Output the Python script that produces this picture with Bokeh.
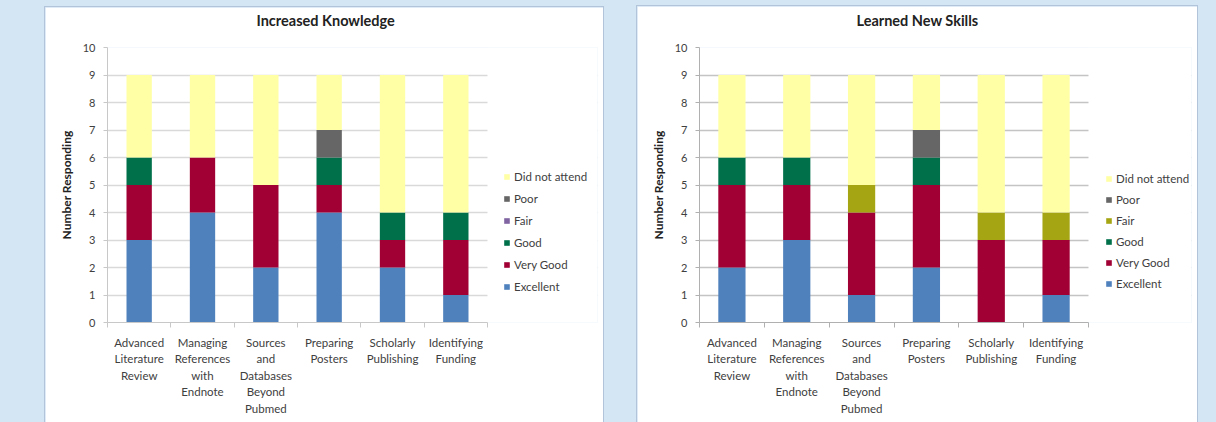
import numpy as np
from bokeh.plotting import figure
from bokeh.models import (Range1d, FixedTicker, SingleIntervalTicker, Legend, LegendItem,
                          Spacer, ColumnDataSource, BoxAnnotation)
from bokeh.layouts import row, column
from bokeh.embed import file_html
from bokeh.resources import INLINE

# ---------------- data ----------------
categories = ["Advanced\nLiterature\nReview",
              "Managing\nReferences\nwith\nEndnote",
              "Sources\nand\nDatabases\nBeyond\nPubmed",
              "Preparing\nPosters",
              "Scholarly\nPublishing",
              "Identifying\nFunding"]
ratings = ["Excellent", "Very Good", "Good", "Fair", "Poor", "Did not attend"]

# Increased Knowledge
knowledge_excellent = [3, 4, 2, 4, 2, 1]
knowledge_very_good = [2, 2, 3, 1, 1, 2]
knowledge_good = [1, 0, 0, 1, 1, 1]
knowledge_fair = [0, 0, 0, 0, 0, 0]
knowledge_poor = [0, 0, 0, 1, 0, 0]
knowledge_did_not_attend = [3, 3, 4, 2, 5, 5]

# Learned New Skills
skills_excellent = [2, 3, 1, 2, 0, 1]
skills_very_good = [3, 2, 3, 3, 3, 2]
skills_good = [1, 1, 0, 1, 0, 0]
skills_fair = [0, 0, 1, 0, 1, 1]
skills_poor = [0, 0, 0, 1, 0, 0]
skills_did_not_attend = [3, 3, 4, 2, 5, 5]

# ---------------- style ----------------
FONT = "Lato"
TXT = "#404040"
colors_left = ["#4F81BD", "#A00034", "#00704A", "#8064A2", "#666666", "#FFFFA6"]
colors_right = ["#4F81BD", "#A00034", "#00704A", "#A5A514", "#666666", "#FFFFA6"]
BG = "#d4e5f4"


def make_panel(title, series, colors, width, height, mleft, mtop, mbottom, plot_w,
               bar_width, title_offset, legend_loc, legend_spacing, grid_color, axis_color):
    n = len(categories)
    x = list(np.arange(n) + 0.5)
    data = {"x": x}
    for r, s in zip(ratings, series):
        data[r] = s
    src = ColumnDataSource(data)

    mright = 6
    frame_w = width - mleft - mright
    x_end = n * frame_w / plot_w  # extra room on the right holds the legend

    p = figure(width=width, height=height, x_range=Range1d(0, x_end), y_range=Range1d(0, 10),
               output_backend="svg", toolbar_location=None,
               min_border_left=mleft, min_border_right=mright,
               min_border_top=mtop, min_border_bottom=mbottom,
               background_fill_color="white", border_fill_color="white",
               outline_line_color=None,
               styles={"outline": "1px solid #b2c4da"})

    # white mask over the grid lines to the right of the category area
    p.add_layout(BoxAnnotation(left=n, fill_color="white", fill_alpha=1,
                               line_color=None, level="underlay"))

    rends = p.vbar_stack(ratings, x="x", width=bar_width, source=src,
                         fill_color=colors, line_color=None)

    # title (trailing empty line lifts the text towards the top of the box)
    p.title.text = title + "\n"
    p.title.align = "left"
    p.title.text_font = FONT
    p.title.text_font_size = "14.5px"
    p.title.text_font_style = "bold"
    p.title.text_color = "#222222"
    p.title.offset = title_offset
    p.title.standoff = 3

    # x axis
    xa = p.xaxis[0]
    xa.bounds = (0, n)
    xa.ticker = FixedTicker(ticks=x, minor_ticks=list(range(n + 1)))
    xa.major_label_overrides = {float(xi): c for xi, c in zip(x, categories)}
    xa.major_tick_line_color = None
    xa.major_tick_out = 0
    xa.major_tick_in = 0
    xa.minor_tick_out = 5
    xa.minor_tick_in = 0
    xa.minor_tick_line_color = axis_color
    xa.axis_line_color = axis_color
    xa.major_label_text_font = FONT
    xa.major_label_text_font_size = "11.5px"
    xa.major_label_text_color = TXT
    xa.major_label_text_line_height = 1.28
    xa.major_label_standoff = 8

    # y axis
    ya = p.yaxis[0]
    ya.ticker = SingleIntervalTicker(interval=1, num_minor_ticks=0)
    ya.axis_label = "Number Responding"
    ya.axis_label_text_font = FONT
    ya.axis_label_text_font_size = "12px"
    ya.axis_label_text_font_style = "bold"
    ya.axis_label_text_color = "#222222"
    ya.axis_label_standoff = 6
    ya.major_label_text_font = FONT
    ya.major_label_text_font_size = "11px"
    ya.major_label_text_color = TXT
    ya.major_label_standoff = 8
    ya.major_tick_out = 4
    ya.major_tick_in = 0
    ya.minor_tick_line_color = None
    ya.major_tick_line_color = axis_color
    ya.axis_line_color = axis_color

    p.xgrid.grid_line_color = None
    p.ygrid.ticker = SingleIntervalTicker(interval=1, num_minor_ticks=0)
    p.ygrid.grid_line_color = grid_color
    p.ygrid.grid_line_width = 1.5

    items = [LegendItem(label=r, renderers=[rd]) for r, rd in zip(ratings, rends)]
    items.reverse()
    leg = Legend(items=items, location=legend_loc, glyph_width=7, glyph_height=7,
                 label_height=16, spacing=legend_spacing, padding=0, margin=0,
                 border_line_color=None, background_fill_alpha=0,
                 label_text_font=FONT, label_text_font_size="11.5px",
                 label_text_color=TXT, label_standoff=4)
    p.add_layout(leg, "center")
    return p


p1 = make_panel("Increased Knowledge",
                [knowledge_excellent, knowledge_very_good, knowledge_good,
                 knowledge_fair, knowledge_poor, knowledge_did_not_attend],
                colors_left, 558, 415, 62, 40, 100, 380, 0.4, 149, (396, 28), 6,
                "#d9d9d9", "#c8c8c8")
p2 = make_panel("Learned New Skills",
                [skills_excellent, skills_very_good, skills_good,
                 skills_fair, skills_poor, skills_did_not_attend],
                colors_right, 560, 416, 62, 41, 100, 389, 0.42, 157, (406, 31), 5,
                "#c4c4c4", "#b0b0b0")

layout = row(Spacer(width=45), column(Spacer(height=7), p1), Spacer(width=34),
             column(Spacer(height=6), p2), Spacer(width=19),
             styles={"background-color": BG})

open("out.html", "w").write(file_html(layout, INLINE))
